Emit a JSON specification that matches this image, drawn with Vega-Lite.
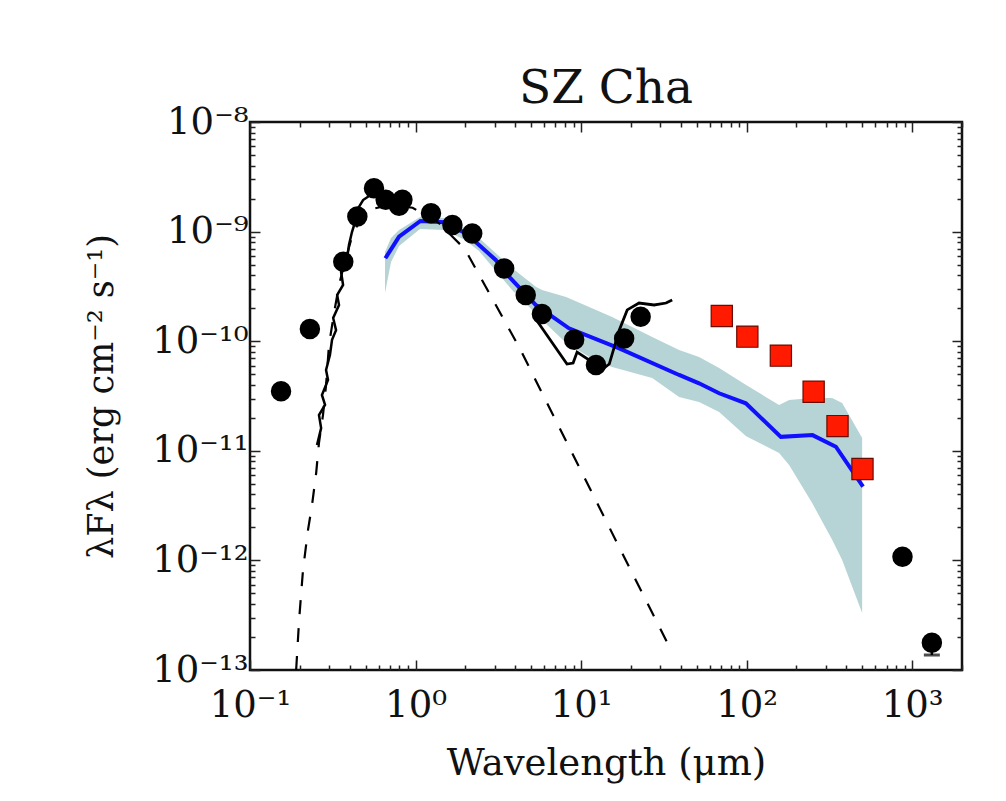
{
  "$schema": "https://vega.github.io/schema/vega-lite/v6.json",
  "width": 712,
  "height": 548,
  "autosize": {"type": "none"},
  "padding": {"left": 250, "top": 122, "right": 44, "bottom": 131},
  "background": "white",
  "title": {"text": "SZ Cha", "font": "DejaVu Serif", "fontSize": 47, "fontWeight": "normal", "color": "#111111", "offset": -10, "anchor": "middle"},
  "config": {
    "view": {"stroke": "#111111", "strokeWidth": 2.5},
    "axis": {"grid": false, "domain": false, "tickColor": "#222222", "tickWidth": 1.5, "labelFont": "DejaVu Serif", "labelFontSize": 37, "labelColor": "#111111", "titleFont": "DejaVu Serif", "titleFontWeight": "normal", "titleColor": "#111111", "labelOverlap": false, "labelFlush": false, "labelBound": false}
  },
  "datasets": {
    "band": [
      {"x": 0.654, "lo": 2.75e-10, "hi": 6.51e-10},
      {"x": 0.711, "lo": 5.28e-10, "hi": 8.74e-10},
      {"x": 0.795, "lo": 7.39e-10, "hi": 1.034e-9},
      {"x": 1.065, "lo": 1.056e-9, "hi": 1.359e-9},
      {"x": 1.487, "lo": 1.034e-9, "hi": 1.331e-9},
      {"x": 1.991, "lo": 8.38e-10, "hi": 1.078e-9},
      {"x": 2.419, "lo": 6.65e-10, "hi": 8.74e-10},
      {"x": 3.83, "lo": 2.93e-10, "hi": 4.65e-10},
      {"x": 5.35, "lo": 1.77e-10, "hi": 3.12e-10},
      {"x": 5.81, "lo": 1.56e-10, "hi": 2.93e-10},
      {"x": 8.12, "lo": 9.63e-11, "hi": 2.53e-10},
      {"x": 12.32, "lo": 6.6e-11, "hi": 1.93e-10},
      {"x": 15.39, "lo": 5.81e-11, "hi": 1.66e-10},
      {"x": 26.9, "lo": 4.61e-11, "hi": 1.09e-10},
      {"x": 39.1, "lo": 3.1e-11, "hi": 8.31e-11},
      {"x": 51.6, "lo": 2.79e-11, "hi": 7.17e-11},
      {"x": 68.2, "lo": 2.26e-11, "hi": 5.69e-11},
      {"x": 99.3, "lo": 1.36e-11, "hi": 3.98e-11},
      {"x": 157.1, "lo": 9.55e-12, "hi": 2.62e-11},
      {"x": 180.6, "lo": 7.42e-12, "hi": 2.91e-11},
      {"x": 248.8, "lo": 3.34e-12, "hi": 3.03e-11},
      {"x": 328.6, "lo": 1.54e-12, "hi": 3.03e-11},
      {"x": 377.6, "lo": 1.01e-12, "hi": 2.73e-11},
      {"x": 498.7, "lo": 3.31e-13, "hi": 1.31e-11}
    ],
    "model": [
      {"x": 0.657, "y": 5.71e-10}, {"x": 0.795, "y": 8.98e-10}, {"x": 1.07, "y": 1.25e-9},
      {"x": 1.49, "y": 1.22e-9}, {"x": 1.99, "y": 9.71e-10}, {"x": 2.42, "y": 7.54e-10},
      {"x": 3.05, "y": 5.51e-10}, {"x": 3.67, "y": 3.88e-10}, {"x": 5.32, "y": 2.14e-10},
      {"x": 8.45, "y": 1.31e-10}, {"x": 17.0, "y": 8.61e-11}, {"x": 39.1, "y": 4.92e-11},
      {"x": 51.6, "y": 4.13e-11}, {"x": 68.2, "y": 3.35e-11}, {"x": 98.9, "y": 2.71e-11},
      {"x": 161, "y": 1.34e-11}, {"x": 250, "y": 1.39e-11}, {"x": 346, "y": 1.09e-11},
      {"x": 505, "y": 4.7e-12}
    ],
    "phot": [
      {"x": 0.19, "y": 1.0e-13}, {"x": 0.198, "y": 2.86e-13}, {"x": 0.209, "y": 8.17e-13},
      {"x": 0.224, "y": 1.89e-12}, {"x": 0.237, "y": 3.2e-12}, {"x": 0.251, "y": 6.27e-12},
      {"x": 0.261, "y": 1.18e-11}, {"x": 0.276, "y": 2.12e-11}, {"x": 0.288, "y": 3.98e-11},
      {"x": 0.3, "y": 9.23e-11}, {"x": 0.322, "y": 1.81e-10}, {"x": 0.345, "y": 3.26e-10},
      {"x": 0.37, "y": 4.96e-10}, {"x": 0.408, "y": 8.4e-10}, {"x": 0.456, "y": 1.25e-9},
      {"x": 0.54, "y": 1.6e-9}, {"x": 0.7, "y": 1.75e-9}, {"x": 0.96, "y": 1.65e-9},
      {"x": 1.38, "y": 1.2e-9}, {"x": 1.99, "y": 6.9e-10}, {"x": 4.22, "y": 8.85e-11},
      {"x": 17.0, "y": 1.32e-12}, {"x": 35.5, "y": 1.45e-13}
    ],
    "opt": [
      {"i": 1, "x": 0.254, "y": 1.13e-11}, {"i": 2, "x": 0.269, "y": 1.61e-11},
      {"i": 3, "x": 0.261, "y": 2.12e-11}, {"i": 4, "x": 0.284, "y": 2.62e-11},
      {"i": 5, "x": 0.272, "y": 3.23e-11}, {"i": 6, "x": 0.296, "y": 4.43e-11},
      {"i": 7, "x": 0.288, "y": 5.46e-11}, {"i": 8, "x": 0.304, "y": 7.48e-11},
      {"i": 9, "x": 0.313, "y": 1.03e-10}, {"i": 10, "x": 0.331, "y": 1.26e-10},
      {"i": 11, "x": 0.318, "y": 1.63e-10}, {"i": 12, "x": 0.345, "y": 2.14e-10},
      {"i": 13, "x": 0.336, "y": 2.64e-10}, {"i": 14, "x": 0.365, "y": 3.26e-10},
      {"i": 15, "x": 0.355, "y": 4.28e-10}, {"i": 16, "x": 0.385, "y": 5.5e-10},
      {"i": 17, "x": 0.396, "y": 7.55e-10}, {"i": 18, "x": 0.413, "y": 9.9e-10},
      {"i": 19, "x": 0.431, "y": 1.22e-9}, {"i": 20, "x": 0.443, "y": 1.57e-9},
      {"i": 21, "x": 0.482, "y": 1.94e-9}, {"i": 22, "x": 0.524, "y": 2.11e-9},
      {"i": 23, "x": 0.601, "y": 2.4e-9}, {"i": 24, "x": 0.711, "y": 2.11e-9}
    ],
    "irs": [
      {"x": 5.27, "y": 1.63e-10}, {"x": 8.22, "y": 6.19e-11}, {"x": 8.95, "y": 6.32e-11},
      {"x": 9.46, "y": 7.96e-11}, {"x": 11.2, "y": 6.73e-11}, {"x": 12.8, "y": 5.23e-11},
      {"x": 14.8, "y": 6.19e-11}, {"x": 17.0, "y": 1.26e-10}, {"x": 19.0, "y": 1.93e-10},
      {"x": 22.4, "y": 2.23e-10}, {"x": 27.6, "y": 2.14e-10}, {"x": 32.6, "y": 2.23e-10},
      {"x": 35.5, "y": 2.38e-10}
    ],
    "dots": [
      {"x": 0.154, "y": 3.5e-11}, {"x": 0.23, "y": 1.29e-10}, {"x": 0.366, "y": 5.3e-10},
      {"x": 0.445, "y": 1.37e-9}, {"x": 0.561, "y": 2.48e-9}, {"x": 0.66, "y": 1.95e-9},
      {"x": 0.795, "y": 1.72e-9}, {"x": 0.833, "y": 1.95e-9}, {"x": 1.24, "y": 1.47e-9},
      {"x": 1.67, "y": 1.15e-9}, {"x": 2.2, "y": 9.6e-10}, {"x": 3.43, "y": 4.6e-10},
      {"x": 4.63, "y": 2.64e-10}, {"x": 5.8, "y": 1.77e-10}, {"x": 9.08, "y": 1.03e-10},
      {"x": 12.3, "y": 6.07e-11}, {"x": 18.2, "y": 1.06e-10}, {"x": 22.9, "y": 1.67e-10},
      {"x": 874, "y": 1.08e-12}, {"x": 1315, "y": 1.77e-13}
    ],
    "err": [{"x": 1315, "lo": 1.37e-13, "hi": 1.77e-13}],
    "herschel": [
      {"x": 70.8, "y": 1.7e-10}, {"x": 101, "y": 1.1e-10}, {"x": 161, "y": 7.38e-11},
      {"x": 254, "y": 3.46e-11}, {"x": 354, "y": 1.68e-11}, {"x": 501, "y": 6.82e-12}
    ]
  },
  "layer": [
    {
      "data": {"name": "band"},
      "mark": {"type": "area", "color": "#b6d4d5", "opacity": 1, "clip": true},
      "encoding": {
        "x": {"field": "x", "type": "quantitative", "scale": {"type": "log", "domain": [0.1, 2000], "nice": false},
          "axis": {"orient": "bottom", "title": "Wavelength (μm)", "titleFontSize": 37, "titlePadding": 17,
            "values": [0.1,0.2,0.3,0.4,0.5,0.6,0.7,0.8,0.9,1,2,3,4,5,6,7,8,9,10,20,30,40,50,60,70,80,90,100,200,300,400,500,600,700,800,900,1000,2000],
            "labelExpr": "datum.value == 0.1 ? '10⁻¹' : datum.value == 1 ? '10⁰' : datum.value == 10 ? '10¹' : datum.value == 100 ? '10²' : datum.value == 1000 ? '10³' : ''",
            "tickSize": {"condition": {"test": "indexof([0.1,1,10,100,1000], datum.value) >= 0", "value": -10}, "value": -5},
            "labelPadding": 27}},
        "y": {"field": "lo", "type": "quantitative", "scale": {"type": "log", "domain": [1e-13, 1e-8], "nice": false},
          "axis": {"orient": "left", "title": "λFλ (erg cm⁻² s⁻¹)", "titleFontSize": 35, "titlePadding": 32,
            "values": [1e-13,2e-13,3e-13,4e-13,5e-13,6e-13,7e-13,8e-13,9e-13,1e-12,2e-12,3e-12,4e-12,5e-12,6e-12,7e-12,8e-12,9e-12,1e-11,2e-11,3e-11,4e-11,5e-11,6e-11,7e-11,8e-11,9e-11,1e-10,2e-10,3e-10,4e-10,5e-10,6e-10,7e-10,8e-10,9e-10,1e-9,2e-9,3e-9,4e-9,5e-9,6e-9,7e-9,8e-9,9e-9,1e-8],
            "labelExpr": "datum.value == 1e-8 ? '10⁻⁸' : datum.value == 1e-9 ? '10⁻⁹' : datum.value == 1e-10 ? '10⁻¹⁰' : datum.value == 1e-11 ? '10⁻¹¹' : datum.value == 1e-12 ? '10⁻¹²' : datum.value == 1e-13 ? '10⁻¹³' : ''",
            "tickSize": {"condition": {"test": "indexof([1e-13,1e-12,1e-11,1e-10,1e-9,1e-8], datum.value) >= 0", "value": -10}, "value": -5},
            "labelPadding": 12}},
        "y2": {"field": "hi"}
      }
    },
    {
      "data": {"name": "model"},
      "mark": {"type": "line", "color": "#1010ff", "strokeWidth": 4, "clip": true},
      "encoding": {
        "x": {"field": "x", "type": "quantitative", "scale": {"type": "log", "domain": [0.1, 2000], "nice": false}, "axis": null},
        "y": {"field": "y", "type": "quantitative", "scale": {"type": "log", "domain": [1e-13, 1e-8], "nice": false}, "axis": null}
      }
    },
    {
      "data": {"name": "phot"},
      "mark": {"type": "line", "color": "#000000", "strokeWidth": 2.2, "strokeDash": [14, 14], "clip": true},
      "encoding": {
        "x": {"field": "x", "type": "quantitative", "scale": {"type": "log", "domain": [0.1, 2000], "nice": false}, "axis": null},
        "y": {"field": "y", "type": "quantitative", "scale": {"type": "log", "domain": [1e-13, 1e-8], "nice": false}, "axis": null}
      }
    },
    {
      "data": {"name": "opt"},
      "mark": {"type": "line", "color": "#000000", "strokeWidth": 2.5, "clip": true},
      "encoding": {
        "x": {"field": "x", "type": "quantitative", "scale": {"type": "log", "domain": [0.1, 2000], "nice": false}, "axis": null},
        "y": {"field": "y", "type": "quantitative", "scale": {"type": "log", "domain": [1e-13, 1e-8], "nice": false}, "axis": null},
        "order": {"field": "i", "type": "quantitative"}
      }
    },
    {
      "data": {"name": "irs"},
      "mark": {"type": "line", "color": "#000000", "strokeWidth": 2.8, "clip": true},
      "encoding": {
        "x": {"field": "x", "type": "quantitative", "scale": {"type": "log", "domain": [0.1, 2000], "nice": false}, "axis": null},
        "y": {"field": "y", "type": "quantitative", "scale": {"type": "log", "domain": [1e-13, 1e-8], "nice": false}, "axis": null}
      }
    },
    {
      "data": {"name": "err"},
      "mark": {"type": "rule", "color": "#000000", "strokeWidth": 2.5},
      "encoding": {
        "x": {"field": "x", "type": "quantitative", "scale": {"type": "log", "domain": [0.1, 2000], "nice": false}, "axis": null},
        "y": {"field": "lo", "type": "quantitative", "scale": {"type": "log", "domain": [1e-13, 1e-8], "nice": false}, "axis": null},
        "y2": {"field": "hi"}
      }
    },
    {
      "data": {"name": "err"},
      "mark": {"type": "tick", "color": "#000000", "orient": "horizontal", "size": 16, "thickness": 3},
      "encoding": {
        "x": {"field": "x", "type": "quantitative", "scale": {"type": "log", "domain": [0.1, 2000], "nice": false}, "axis": null},
        "y": {"field": "lo", "type": "quantitative", "scale": {"type": "log", "domain": [1e-13, 1e-8], "nice": false}, "axis": null}
      }
    },
    {
      "data": {"name": "dots"},
      "mark": {"type": "point", "shape": "circle", "filled": true, "color": "#000000", "size": 420, "opacity": 1},
      "encoding": {
        "x": {"field": "x", "type": "quantitative", "scale": {"type": "log", "domain": [0.1, 2000], "nice": false}, "axis": null},
        "y": {"field": "y", "type": "quantitative", "scale": {"type": "log", "domain": [1e-13, 1e-8], "nice": false}, "axis": null}
      }
    },
    {
      "data": {"name": "herschel"},
      "mark": {"type": "point", "shape": "square", "filled": true, "fill": "#ff1a00", "stroke": "#6a0a00", "strokeWidth": 1.2, "size": 450, "opacity": 1},
      "encoding": {
        "x": {"field": "x", "type": "quantitative", "scale": {"type": "log", "domain": [0.1, 2000], "nice": false},
          "axis": {"orient": "top", "title": null, "labels": false,
            "values": [0.1,0.2,0.3,0.4,0.5,0.6,0.7,0.8,0.9,1,2,3,4,5,6,7,8,9,10,20,30,40,50,60,70,80,90,100,200,300,400,500,600,700,800,900,1000,2000],
            "tickSize": {"condition": {"test": "indexof([0.1,1,10,100,1000], datum.value) >= 0", "value": -10}, "value": -5}}},
        "y": {"field": "y", "type": "quantitative", "scale": {"type": "log", "domain": [1e-13, 1e-8], "nice": false},
          "axis": {"orient": "right", "title": null, "labels": false,
            "values": [1e-13,2e-13,3e-13,4e-13,5e-13,6e-13,7e-13,8e-13,9e-13,1e-12,2e-12,3e-12,4e-12,5e-12,6e-12,7e-12,8e-12,9e-12,1e-11,2e-11,3e-11,4e-11,5e-11,6e-11,7e-11,8e-11,9e-11,1e-10,2e-10,3e-10,4e-10,5e-10,6e-10,7e-10,8e-10,9e-10,1e-9,2e-9,3e-9,4e-9,5e-9,6e-9,7e-9,8e-9,9e-9,1e-8],
            "tickSize": {"condition": {"test": "indexof([1e-13,1e-12,1e-11,1e-10,1e-9,1e-8], datum.value) >= 0", "value": -10}, "value": -5}}}
      }
    }
  ],
  "resolve": {"axis": {"x": "independent", "y": "independent"}}
}
